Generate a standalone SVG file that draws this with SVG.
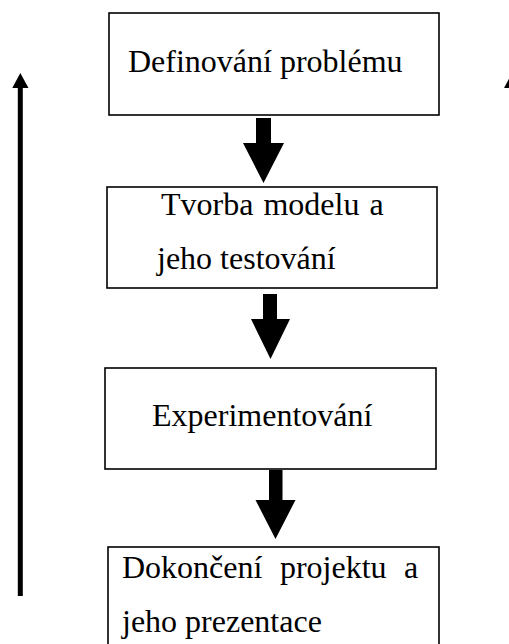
<svg xmlns="http://www.w3.org/2000/svg" width="509" height="644" viewBox="0 0 509 644">
<style>
.box{fill:#fff;stroke:#000;stroke-width:1.6}
.t{font-family:"Liberation Serif","Times New Roman",serif;font-size:32px;fill:#000}
.ar{fill:#000;stroke:none}
</style>
<rect width="509" height="644" fill="#fff"/>
<g id="connectors">
<polygon class="ar" points="256,118 271,118 271,143 284,143 263.5,183 243,143 256,143"/>
<polygon class="ar" points="263,294 277,294 277,319 290,319 270.5,359 251,319 263,319"/>
<polygon class="ar" points="269,470 282.5,470 282.5,500 295.5,500 275.5,539 255.5,500 269,500"/>
<polygon class="ar" points="17.8,596 22.8,596 22.8,88 28.5,88 20.3,73 12.3,88 17.8,88"/>
<polygon class="ar" points="512,73 520,88 504,88"/>
</g>
<g id="n1">
<rect class="box" x="109" y="13" width="330" height="102"/>
<text class="t" x="128" y="72">Definování problému</text>
</g>
<g id="n2">
<rect class="box" x="107" y="187" width="330" height="101"/>
<text class="t" x="161" y="215" word-spacing="2">Tvorba modelu a</text>
<text class="t" x="157" y="269">jeho testování</text>
</g>
<g id="n3">
<rect class="box" x="105" y="368" width="331" height="101"/>
<text class="t" x="152" y="426">Experimentování</text>
</g>
<g id="n4">
<rect class="box" x="108" y="547" width="331" height="110"/>
<text class="t" x="122" y="578" word-spacing="9.5">Dokončení projektu a</text>
<text class="t" x="122" y="632">jeho prezentace</text>
</g>
</svg>
